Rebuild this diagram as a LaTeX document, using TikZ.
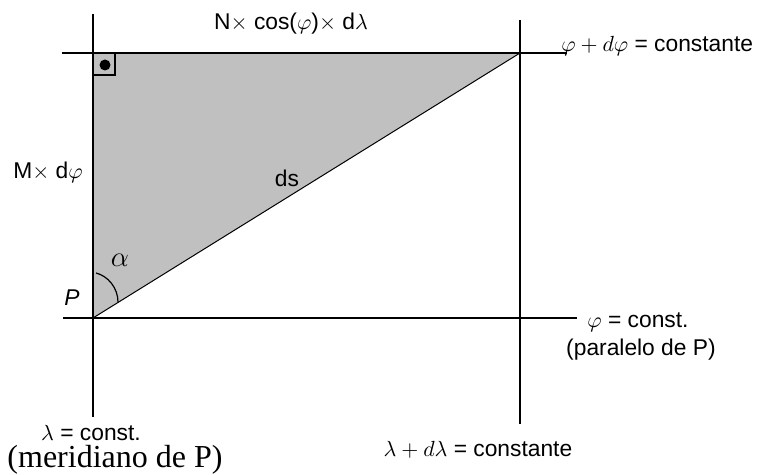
\documentclass[tikz,border=0pt]{standalone}
\usepackage{fontspec}
\setmainfont{Liberation Sans}
\newfontfamily\myserif{Liberation Serif}
\begin{document}
\begin{tikzpicture}[x=0.5pt,y=-0.5pt,
  axis/.style={line width=0.8pt,black},
  lbl/.style={inner sep=0pt,font=\fontsize{11.4}{13}\selectfont},
  serlbl/.style={inner sep=0pt,font=\myserif\fontsize{16}{18}\selectfont}]
\useasboundingbox (0,0) rectangle (771,475);
% corner points
\coordinate (A) at (93,53);
\coordinate (B) at (520,53);
\coordinate (P) at (93,318);
\coordinate (Q) at (520,318);
% line ends
\coordinate (Lt) at (93,14);
\coordinate (Lb) at (93,417);
\coordinate (Rt) at (520,20);
\coordinate (Rb) at (520,424);
\coordinate (Tl) at (62,53);
\coordinate (Tr) at (567,53);
\coordinate (Bl) at (63,318);
\coordinate (Br) at (577,318);
% triangle
\fill[fill={rgb,255:red,192;green,192;blue,192}] (A) -- (B) -- (P) -- cycle;
\draw[line width=0.5pt] (P) -- (B);
% lines
\draw[axis] (Lt) -- (Lb);
\draw[axis] (Rt) -- (Rb);
\draw[axis] (Tl) -- (Tr);
\draw[axis] (Bl) -- (Br);
% right angle mark
\coordinate (S) at (115,75);
\draw[line width=0.6pt] (A) rectangle (S);
\fill (105,65) circle[radius=5.5];
% angle arc
\coordinate (a1) at (96,273);
\coordinate (a2) at (118,302);
\draw[line width=0.6pt] (a1) .. controls (108,276) and (118,288) .. (a2);
% labels
\node[lbl] (top) at (291,24) {N$\times$ cos($\varphi$)$\times$ d$\lambda$};
\node[lbl,anchor=west] (phid) at (561,46) {$\varphi+d\varphi$ = constante};
\node[lbl] (Md) at (48,172) {M$\times$ d$\varphi$};
\node[lbl] (ds) at (287,178) {ds};
\node[inner sep=0pt,font=\fontsize{15}{17}\selectfont] (alpha) at (120,260) {$\alpha$};
\node[lbl,font=\fontsize{11.4}{13}\selectfont\itshape] (Plbl) at (72,298) {P};
\node[lbl,anchor=west] (phic) at (587,322) {$\varphi$ = const.};
\node[lbl] (par) at (641,350) {(paralelo de P)};
\node[lbl] (lamc) at (91,433) {$\lambda$ = const.};
\node[serlbl] (mer) at (115,460) {(meridiano de P)};
\node[lbl] (lamd) at (478,450) {$\lambda+d\lambda$ = constante};
\end{tikzpicture}
\end{document}
